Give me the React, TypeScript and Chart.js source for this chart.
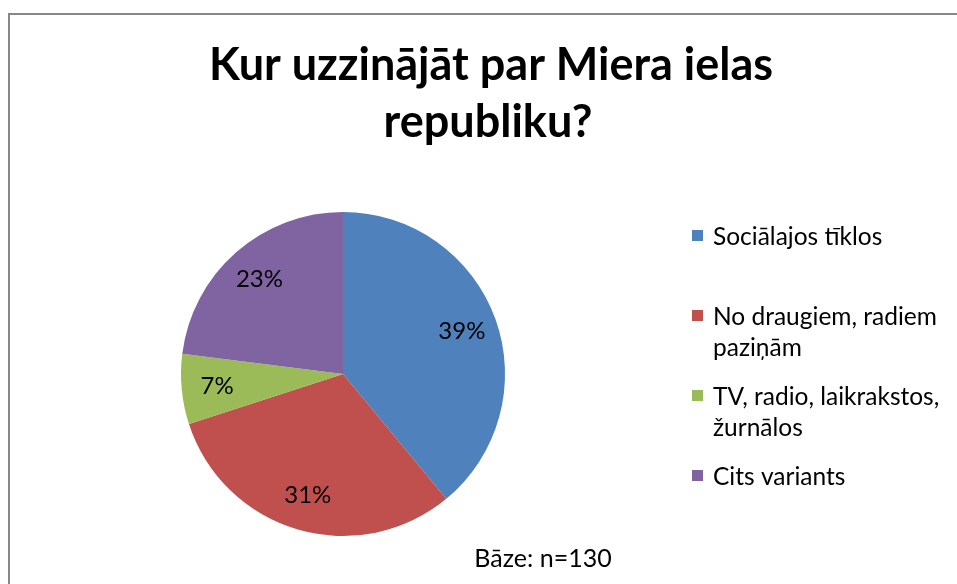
import React, { useEffect, useRef } from "react";
import { Chart, registerables } from "chart.js";

Chart.register(...registerables);

const categories = [
  "Sociālajos tīklos",
  "No draugiem, radiem paziņām",
  "TV, radio, laikrakstos, žurnālos",
  "Cits variants",
];
const legendLines = [
  ["Sociālajos tīklos"],
  ["No draugiem, radiem", "paziņām"],
  ["TV, radio, laikrakstos,", "žurnālos"],
  ["Cits variants"],
];
const values = [39, 31, 7, 23];
const colors = ["#4F81BD", "#C0504D", "#9BBB59", "#8064A2"];
const titleLines = ["Kur uzzinājāt par Miera ielas", "republiku?"];
const footnote = "Bāze: n=130";

const FONT = "Lato, 'Open Sans', sans-serif";

const overlayPlugin = {
  id: "overlay",
  afterDraw(chart: any) {
    const ctx = chart.ctx as CanvasRenderingContext2D;
    ctx.save();
    // Title
    ctx.fillStyle = "#000";
    ctx.textAlign = "center";
    ctx.textBaseline = "alphabetic";
    ctx.font = `bold 45px ${FONT}`;
    ctx.fillText(titleLines[0], 491, 80);
    ctx.fillText(titleLines[1], 488, 137);

    // Percent labels
    const meta = chart.getDatasetMeta(0);
    ctx.font = `24px ${FONT}`;
    ctx.textBaseline = "middle";
    const total = values.reduce((a, b) => a + b, 0);
    meta.data.forEach((arc: any, i: number) => {
      const p = arc.getProps(["x", "y", "startAngle", "endAngle", "outerRadius"], true);
      const mid = (p.startAngle + p.endAngle) / 2;
      const r = p.outerRadius * 0.78;
      const x = p.x + Math.cos(mid) * r;
      const y = p.y + Math.sin(mid) * r;
      ctx.fillText(Math.round((values[i] / total) * 100) + "%", x, y);
    });

    // Legend
    ctx.textAlign = "left";
    ctx.textBaseline = "alphabetic";
    ctx.font = `24.5px ${FONT}`;
    legendLines.forEach((lines, i) => {
      const base = 245 + i * 80;
      ctx.fillStyle = colors[i];
      ctx.fillRect(692, base - 15, 11, 11);
      ctx.fillStyle = "#000";
      lines.forEach((ln, j) => ctx.fillText(ln, 713, base + j * 31));
    });

    // Footnote
    ctx.textAlign = "center";
    ctx.font = `25px ${FONT}`;
    ctx.fillText(footnote, 543, 567);
    ctx.restore();
  },
};

export default function App() {
  const ref = useRef<HTMLCanvasElement>(null);
  useEffect(() => {
    if (!ref.current) return;
    const chart = new Chart(ref.current, {
      type: "pie",
      data: {
        labels: categories,
        datasets: [
          {
            data: values,
            backgroundColor: colors,
            borderWidth: 0,
          },
        ],
      },
      options: {
        animation: false,
        responsive: false,
        events: [],
        layout: { padding: { left: 181, top: 212, right: 452, bottom: 48 } },
        plugins: {
          legend: { display: false },
          title: { display: false },
          tooltip: { enabled: false },
        },
      },
      plugins: [overlayPlugin],
    });
    return () => chart.destroy();
  }, []);
  return (
    <div style={{ position: "fixed", left: 0, top: 0, width: 957, height: 584, background: "#fff" }}>
      <canvas ref={ref} width={957} height={584} style={{ position: "absolute", left: 0, top: 0 }} />
      <div
        style={{
          position: "absolute",
          left: 8,
          top: 13,
          width: 949,
          height: 571,
          borderTop: "2px solid #878787",
          borderLeft: "2px solid #878787",
          boxSizing: "border-box",
          pointerEvents: "none",
        }}
      />
    </div>
  );
}
